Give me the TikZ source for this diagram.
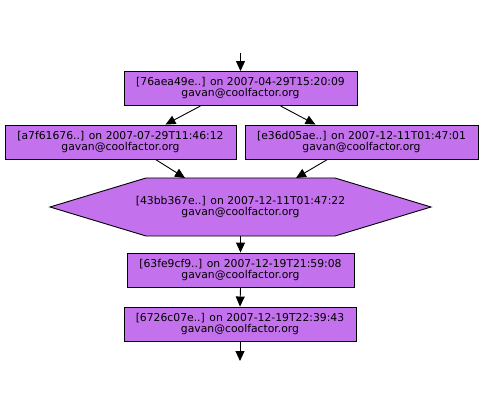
\documentclass[tikz,border=0pt]{standalone}
\usepackage{fontspec}
\setmainfont{DejaVu Sans}
\usetikzlibrary{arrows.meta}
\definecolor{nodefill}{RGB}{196,113,237}
\tikzset{
  revtext/.style={align=center, font=\fontsize{10.8}{11}\selectfont},
  rev/.style={revtext, draw=black, line width=0.9pt, fill=nodefill, inner sep=0pt,
    minimum height=34pt},
  edge/.style={line width=0.9pt, -{Triangle[length=10pt,width=9pt]}}
}
\begin{document}
\begin{tikzpicture}[x=1pt,y=-1pt]
\useasboundingbox (0,0) rectangle (484,414);
\node[rev, minimum width=233pt] (n1) at (240.5,88.5) {[76aea49e..] on 2007-04-29T15:20:09\\gavan@coolfactor.org};
\node[rev, minimum width=231pt] (n2) at (120.5,142) {[a7f61676..] on 2007-07-29T11:46:12\\gavan@coolfactor.org};
\node[rev, minimum width=233pt] (n3) at (361.5,142) {[e36d05ae..] on 2007-12-11T01:47:01\\gavan@coolfactor.org};
% hexagon
\coordinate (hl) at (50,207);
\coordinate (htl) at (146,178);
\coordinate (htr) at (335,178);
\coordinate (hr) at (431,207);
\coordinate (hbr) at (335,236);
\coordinate (hbl) at (146,236);
\draw[line width=0.9pt, fill=nodefill] (hl) -- (htl) -- (htr) -- (hr) -- (hbr) -- (hbl) -- cycle;
\node[revtext, inner sep=0pt] (n4) at (240.5,207) {[43bb367e..] on 2007-12-11T01:47:22\\gavan@coolfactor.org};
\coordinate (h2) at (185,178);
\coordinate (h3) at (296,178);
\coordinate (hb) at (240.5,236);
\node[rev, minimum width=227pt] (n5) at (240.5,270) {[63fe9cf9..] on 2007-12-19T21:59:08\\gavan@coolfactor.org};
\node[rev, minimum width=232pt] (n6) at (240,324) {[6726c07e..] on 2007-12-19T22:39:43\\gavan@coolfactor.org};
\coordinate (top) at (240.5,53);
\coordinate (bot) at (240,361);
\draw[edge] (top) -- (n1.north);
\draw[edge] ([xshift=-40pt]n1.south) -- ([xshift=45pt]n2.north);
\draw[edge] ([xshift=40pt]n1.south) -- ([xshift=-46pt]n3.north);
\draw[edge] ([xshift=35pt]n2.south) -- (h2);
\draw[edge] ([xshift=-34pt]n3.south) -- (h3);
\draw[edge] (hb) -- (n5.north);
\draw[edge] (n5.south) -- (n6.north);
\draw[edge] (n6.south) -- (bot);
\end{tikzpicture}
\end{document}
